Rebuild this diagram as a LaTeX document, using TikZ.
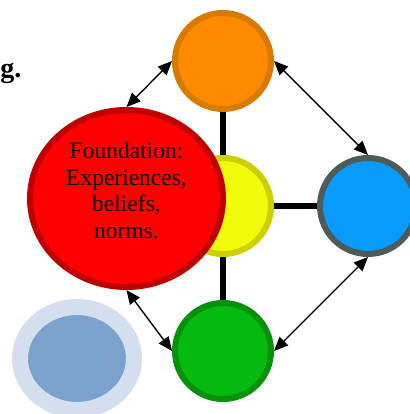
\documentclass[tikz,border=0pt]{standalone}
\usepackage{fontspec}
\setmainfont{Liberation Serif}
\usetikzlibrary{arrows.meta,shapes.geometric}

\definecolor{orangefill}{HTML}{FF8A00}
\definecolor{orangeline}{HTML}{D97A00}
\definecolor{yellowfill}{HTML}{F0FA0A}
\definecolor{yellowline}{HTML}{CCD000}
\definecolor{bluefill}{HTML}{0A9BFF}
\definecolor{blueline}{HTML}{4D5B5B}
\definecolor{greenfill}{HTML}{05BB0F}
\definecolor{greenline}{HTML}{07920B}
\definecolor{redfill}{HTML}{FF0000}
\definecolor{redline}{HTML}{C00000}
\definecolor{paleouter}{HTML}{D3DEEE}
\definecolor{paleinner}{HTML}{7BA1CD}

\tikzset{
  bubble/.style={circle, minimum size=96pt, inner sep=0pt, line width=6pt},
  spoke/.style={line width=6pt},
  link/.style={{Triangle[length=14pt,width=12pt]}-{Triangle[length=14pt,width=12pt]}, line width=1.4pt}
}

\begin{document}
\begin{tikzpicture}[x=1pt, y=1pt]
\useasboundingbox (0, 0) rectangle (409, 414);
\node[anchor=base east, font=\fontsize{28}{32}\selectfont\bfseries] (cut) at (25, 336) {g.};
\node[bubble, fill=orangefill, draw=orangeline] (top) at (223, 353) {};
\node[bubble, fill=yellowfill, draw=yellowline] (core) at (223, 208) {};
\node[bubble, fill=bluefill, draw=blueline] (right) at (368, 208) {};
\node[bubble, fill=greenfill, draw=greenline] (bottom) at (223, 63) {};
\draw[spoke] (top.south) -- (core.north);
\draw[spoke] (core.south) -- (bottom.north);
\draw[spoke] (core.east) -- (right.west);
\node[ellipse, minimum width=193pt, minimum height=177pt, line width=6pt, fill=redfill, draw=redline] (found) at (126.5, 215.5) {};
\node[align=center, font=\fontsize{23.5}{26.7}\selectfont] (foundtext) at ([yshift=8pt]found.center) {Foundation:\\Experiences,\\beliefs,\\norms.};
\node[ellipse, minimum width=114pt, minimum height=103pt, line width=16pt, fill=paleinner, draw=paleouter] (pale) at (77, 55.5) {};
\draw[link] (top.west) -- (found.north);
\draw[link] (top.east) -- (right.north);
\draw[link] (found.south) -- (bottom.west);
\draw[link] (right.south) -- (bottom.east);
\end{tikzpicture}
\end{document}
